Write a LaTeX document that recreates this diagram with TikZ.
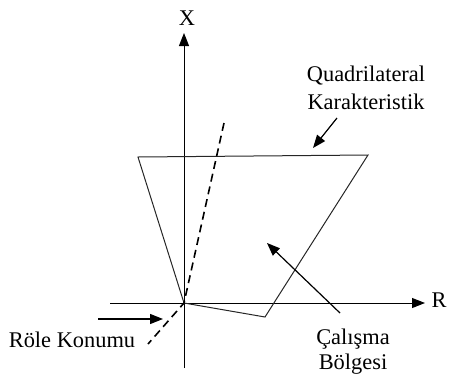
\documentclass[tikz,border=0pt]{standalone}
\usepackage{fontspec}
\setmainfont{Liberation Serif}
\usetikzlibrary{arrows.meta}

\tikzset{
	eksen/.style={line width=0.5pt},
	kenar/.style={line width=0.5pt, black!85},
	kesik/.style={line width=0.8pt, dash pattern=on 4pt off 2.5pt},
	okucu/.style={line width=0.6pt, -{Triangle[length=6.5pt,width=5pt]}}
}

\begin{document}
\begin{tikzpicture}[x=0.5pt,y=-0.5pt,font=\fontsize{11.2}{14}\selectfont]
	\useasboundingbox (0,0) rectangle (450,376);

	% Eksenler
	\coordinate (O) at (184,303);
	\coordinate (Xalt) at (184,368);
	\coordinate (Xuc) at (184,33);
	\coordinate (Rsol) at (110,303);
	\coordinate (Ruc) at (425,303);
	\draw[okucu, line width=0.5pt] (Xalt) -- (Xuc);
	\draw[okucu, line width=0.5pt] (Rsol) -- (Ruc);
	\node[anchor=base] (X) at (187,25) {X};
	\node[anchor=base] (R) at (439,307) {R};

	% Quadrilateral karakteristik
	\coordinate (A) at (138,157);
	\coordinate (B) at (368,155);
	\coordinate (C) at (265,317);
	\draw[kenar] (O) -- (A) -- (B) -- (C) -- cycle;

	% Kesikli cizgi
	\coordinate (D1) at (224,123);
	\coordinate (D2) at (148,344);
	\draw[kesik] (D1) -- (O) -- (D2);

	% Etiketler
	\node[align=center] (quad) at (366,88) {Quadrilateral\\Karakteristik};
	\node[align=center, font=\fontsize{11.2}{12.5}\selectfont] (calisma) at (353,352) {Çalışma\\Bölgesi};
	\node[anchor=base] (role) at (72,347) {Röle Konumu};

	% Oklar
	\coordinate (q1) at (337,118);
	\coordinate (q2) at (313,148);
	\coordinate (r1) at (98,319);
	\coordinate (r2) at (163,319);
	\coordinate (c1) at (340,313);
	\coordinate (c2) at (267,243);
	\draw[okucu] (q1) -- (q2);
	\draw[okucu] (r1) -- (r2);
	\draw[okucu] (c1) -- (c2);
\end{tikzpicture}
\end{document}
